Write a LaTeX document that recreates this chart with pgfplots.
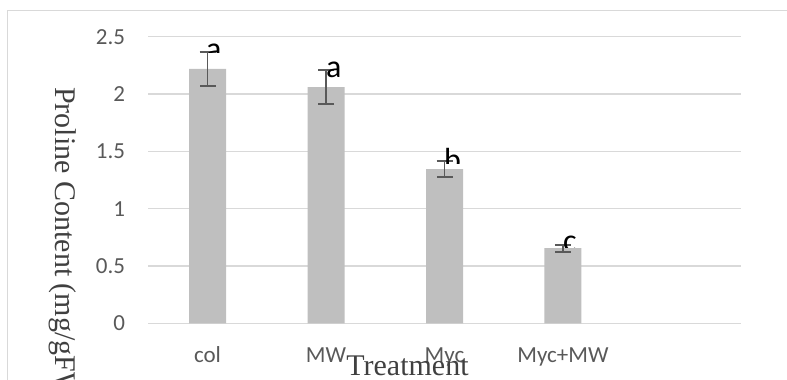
\documentclass[border=0pt]{standalone}
\usepackage{pgfplots}
\pgfplotsset{compat=1.18}
\usepackage{pgfplotstable}
\usepackage{fontspec}
\setmainfont{Carlito}
\newfontfamily\timesf{Liberation Serif}
\definecolor{gridc}{HTML}{D9D9D9}
\definecolor{barc}{HTML}{BFBFBF}
\definecolor{errc}{HTML}{595959}
\definecolor{tickc}{HTML}{595959}
\definecolor{titc}{HTML}{404040}
\pgfplotstableread{
x y e
0 2.22 0.15
1 2.06 0.15
2 1.345 0.07
3 0.655 0.03
}\proline
\begin{document}
\begin{tikzpicture}
\useasboundingbox (0pt,0pt) rectangle (787pt,380pt);
\clip (0pt,0pt) rectangle (787pt,380pt);
\draw[gridc, line width=1.5pt] (7.5pt,0pt) -- (7.5pt,369.5pt) -- (787pt,369.5pt);
\begin{axis}[
  at={(148.3pt,56.7pt)}, anchor=south west, scale only axis,
  width=592.4pt, height=286.6pt,
  xmin=-0.5, xmax=4.5, ymin=0, ymax=2.5,
  axis line style={draw=none}, tick style={draw=none},
  ymajorgrids, major grid style={gridc, line width=1.5pt},
  ytick={0,0.5,1,1.5,2,2.5},
  xtick={0,1,2,3}, xticklabels={col,MW,Myc,Myc+MW},
  /pgf/number format/assume math mode=true,
  tick label style={font=\fontsize{23}{27}\selectfont, text=tickc},
  yticklabel style={anchor=east, inner sep=0pt, xshift=-23pt},
  xticklabel style={anchor=base, inner sep=0pt, yshift=-39pt},
  clip=false,
]
\addplot[ybar, bar width=37pt, fill=barc, draw=none,
  error bars/.cd, y dir=both, y explicit,
  error bar style={draw=errc, line width=1.8pt, solid},
  error mark=|,
  error mark options={draw=errc, line width=1.8pt, mark size=8pt}]
  table[x=x, y=y, y error=e] {\proline};
\end{axis}
\node[anchor=base, inner sep=0pt, font=\timesf\fontsize{30}{36}\selectfont, text=titc] at (407.5pt,4pt) {Treatment};
\node[rotate=-90, anchor=base west, inner sep=0pt, font=\timesf\fontsize{30}{36}\selectfont, text=titc] at (55pt,293pt) {Proline Content (mg/gFW)};
\begin{scope}
\clip (200pt,327pt) rectangle (232pt,345pt);
\node[anchor=base west, inner sep=0pt, font=\fontsize{32}{36}\selectfont] at (206pt,320pt) {a};
\end{scope}
\node[anchor=base west, inner sep=0pt, font=\fontsize{32}{36}\selectfont] at (326pt,302pt) {a};
\begin{scope}
\clip (440pt,216pt) rectangle (472pt,240pt);
\node[anchor=base west, inner sep=0pt, font=\fontsize{32}{36}\selectfont] at (444pt,209pt) {b};
\end{scope}
\begin{scope}
\clip (558pt,132pt) rectangle (590pt,150pt);
\node[anchor=base west, inner sep=0pt, font=\fontsize{32}{36}\selectfont] at (563pt,128pt) {c};
\end{scope}
\end{tikzpicture}
\end{document}
